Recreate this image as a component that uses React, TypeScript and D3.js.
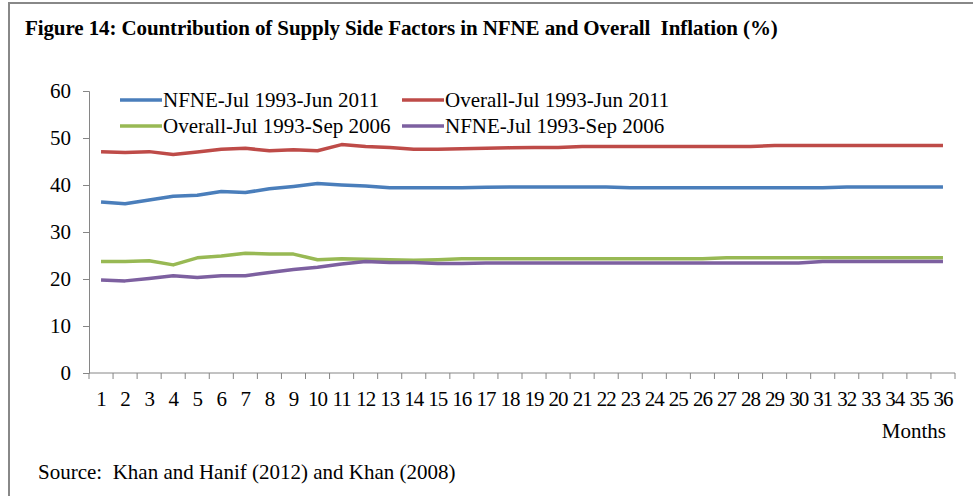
import React, { useRef, useEffect } from 'react';
import * as d3 from 'd3';

const months = d3.range(1, 37).map(String);

const nfne2011 = [36.4, 36.0, 36.8, 37.6, 37.8, 38.6, 38.4, 39.2, 39.7, 40.3, 40.0, 39.8, 39.4, 39.4, 39.4, 39.4, 39.5, 39.6,
  39.6, 39.6, 39.6, 39.6, 39.4, 39.4, 39.4, 39.4, 39.4, 39.4, 39.4, 39.4, 39.4, 39.6, 39.6, 39.6, 39.6, 39.6];
const overall2011 = [47.1, 46.9, 47.1, 46.5, 47.0, 47.6, 47.8, 47.3, 47.5, 47.3, 48.6, 48.2, 48.0, 47.6, 47.6, 47.7, 47.8, 47.9,
  48.0, 48.0, 48.2, 48.2, 48.2, 48.2, 48.2, 48.2, 48.2, 48.2, 48.4, 48.4, 48.4, 48.4, 48.4, 48.4, 48.4, 48.4];
const overall2006 = [23.7, 23.7, 23.9, 23.0, 24.5, 24.9, 25.5, 25.3, 25.3, 24.1, 24.3, 24.2, 24.1, 24.0, 24.1, 24.3, 24.3, 24.3,
  24.3, 24.3, 24.3, 24.3, 24.3, 24.3, 24.3, 24.3, 24.5, 24.5, 24.5, 24.5, 24.5, 24.5, 24.5, 24.5, 24.5, 24.5];
const nfne2006 = [19.8, 19.6, 20.1, 20.7, 20.3, 20.7, 20.7, 21.4, 22.0, 22.5, 23.2, 23.7, 23.5, 23.5, 23.3, 23.3, 23.4, 23.4,
  23.4, 23.4, 23.4, 23.4, 23.4, 23.4, 23.4, 23.4, 23.4, 23.4, 23.4, 23.4, 23.7, 23.7, 23.7, 23.7, 23.7, 23.7];

const yTicks = [0, 10, 20, 30, 40, 50, 60];

const series = [
  { name: 'NFNE-Jul 1993-Jun 2011', values: nfne2011, color: '#4a7ebb' },
  { name: 'Overall-Jul 1993-Jun 2011', values: overall2011, color: '#be4b48' },
  { name: 'Overall-Jul 1993-Sep 2006', values: overall2006, color: '#98b954' },
  { name: 'NFNE-Jul 1993-Sep 2006', values: nfne2006, color: '#7d60a0' },
];

function App() {
  const svgRef = useRef();

  useEffect(() => {
    document.body.style.margin = '0';
    const svg = d3.select(svgRef.current);
    svg.selectAll('*').remove();

    const width = 973;
    const height = 496;
    const margin = { top: 91, right: 18, bottom: 123, left: 89 };
    const font = '"Liberation Serif", "Times New Roman", serif';
    const axisColor = '#868686';
    const fs = 21;

    // frame
    svg.append('path')
      .attr('d', `M9,${height} L9,3 L${width},3`)
      .attr('fill', 'none')
      .attr('stroke', '#888')
      .attr('stroke-width', 2);

    svg.append('text')
      .attr('x', 25)
      .attr('y', 35)
      .attr('font-family', font)
      .attr('font-weight', 'bold')
      .attr('font-size', fs)
      .attr('letter-spacing', -0.1)
      .style('white-space', 'pre')
      .text('Figure 14: Countribution of Supply Side Factors in NFNE and Overall  Inflation (%)');

    const x = d3.scaleBand()
      .domain(months)
      .range([margin.left, width - margin.right]);

    const y = d3.scaleLinear()
      .domain([0, 60])
      .range([height - margin.bottom, margin.top]);

    // y axis
    const yAxis = svg.append('g')
      .attr('transform', `translate(${margin.left}, 0)`)
      .call(d3.axisLeft(y).tickValues(yTicks).tickSize(6).tickPadding(12));
    yAxis.select('.domain').attr('stroke', axisColor);
    yAxis.selectAll('line').attr('stroke', axisColor);
    yAxis.selectAll('text')
      .attr('font-family', font)
      .attr('font-size', fs)
      .attr('fill', '#000');

    // x axis: ticks on category boundaries
    const x0 = y(0);
    const g = svg.append('g');
    g.append('line')
      .attr('x1', margin.left).attr('x2', width - margin.right)
      .attr('y1', x0).attr('y2', x0)
      .attr('stroke', axisColor);
    g.selectAll('line.tick')
      .data(d3.range(months.length + 1))
      .join('line')
      .attr('class', 'tick')
      .attr('x1', i => margin.left + i * x.step())
      .attr('x2', i => margin.left + i * x.step())
      .attr('y1', x0).attr('y2', x0 + 6)
      .attr('stroke', axisColor);
    g.selectAll('text')
      .data(months)
      .join('text')
      .attr('x', d => x(d) + x.bandwidth() / 2)
      .attr('y', x0 + 33)
      .attr('text-anchor', 'middle')
      .attr('font-family', font)
      .attr('font-size', fs)
      .attr('letter-spacing', -1)
      .text(d => d);

    svg.append('text')
      .attr('x', 946)
      .attr('y', 438)
      .attr('text-anchor', 'end')
      .attr('font-family', font)
      .attr('font-size', fs)
      .text('Months');

    // lines
    const line = d3.line()
      .x((d, i) => x(months[i]) + x.bandwidth() / 2)
      .y(d => y(d));

    svg.append('g')
      .selectAll('path')
      .data(series)
      .join('path')
      .attr('d', d => line(d.values))
      .attr('fill', 'none')
      .attr('stroke', d => d.color)
      .attr('stroke-width', 3.5)
      .attr('stroke-linejoin', 'round');

    // legend
    const legendPos = [[120, 100], [402, 100], [120, 126], [402, 126]];
    const legend = svg.append('g')
      .selectAll('g')
      .data(series)
      .join('g')
      .attr('transform', (d, i) => `translate(${legendPos[i][0]}, ${legendPos[i][1]})`);
    legend.append('line')
      .attr('x1', 0).attr('x2', 42)
      .attr('stroke', d => d.color)
      .attr('stroke-width', 3.5);
    legend.append('text')
      .attr('x', 43)
      .attr('y', 7)
      .attr('font-family', font)
      .attr('font-size', fs)
      .text(d => d.name);

    svg.append('text')
      .attr('x', 38)
      .attr('y', 479)
      .attr('font-family', font)
      .attr('font-size', fs)
      .style('white-space', 'pre')
      .text('Source:  Khan and Hanif (2012) and Khan (2008)');
  }, []);

  return <svg ref={svgRef} width={973} height={496} style={{ display: 'block' }}></svg>;
}

export default App;
